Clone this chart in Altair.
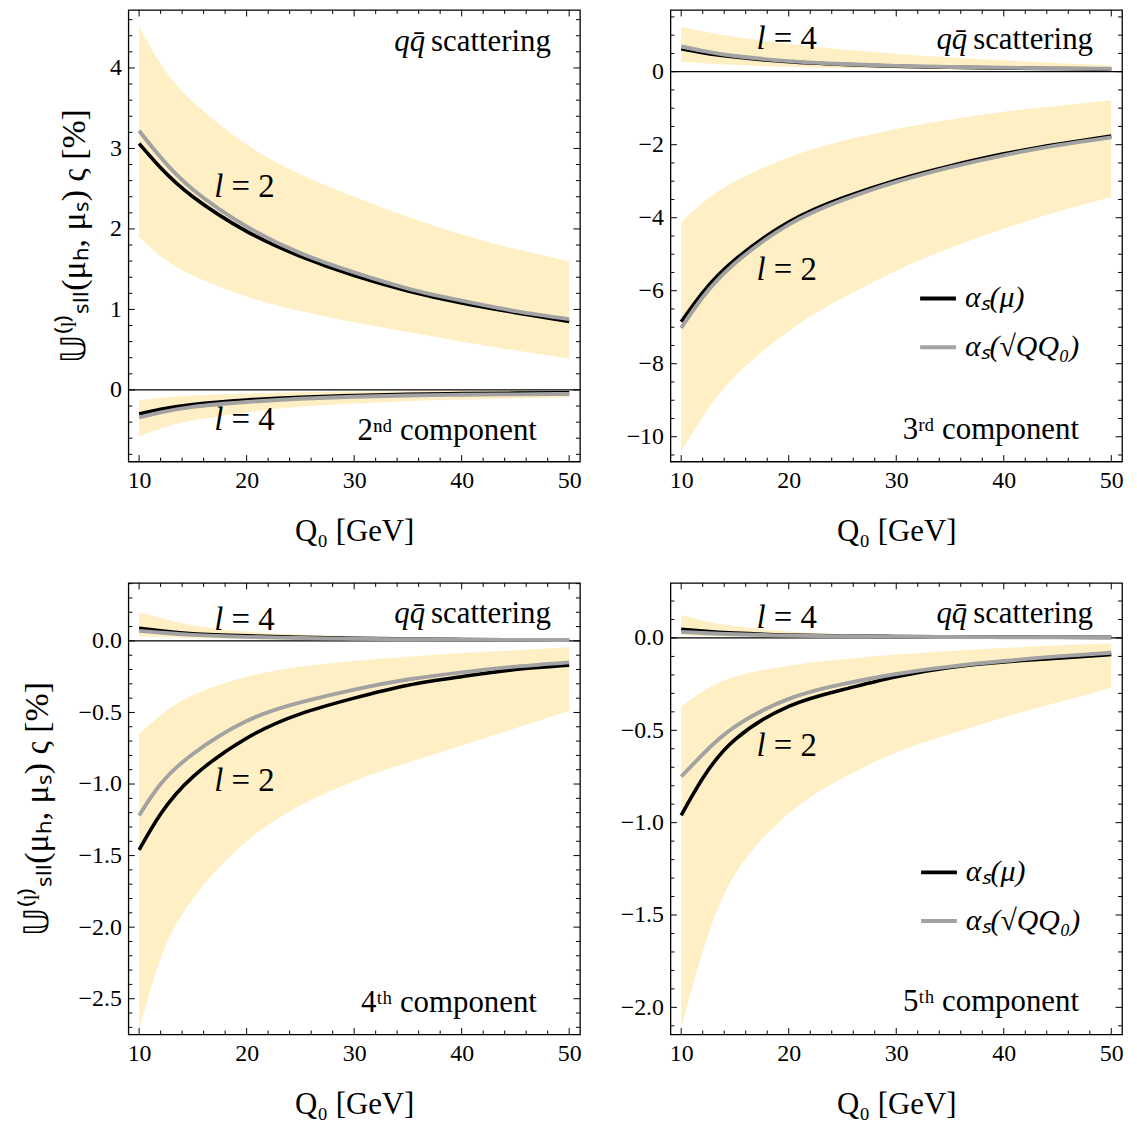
import altair as alt
import numpy as np
import pandas as pd

FONT = "Liberation Serif"
BAND = "#FFEFC4"
GRAY = "#A2A2A2"
LEG = ["αₛ(μ)", "αₛ(√QQ₀)"]

Q = [10, 12, 15, 20, 25, 30, 35, 40, 45, 50]

# ---- 2nd component (top-left) ----
c2_l2_black = [3.06, 2.76, 2.40, 1.97, 1.66, 1.42, 1.23, 1.08, 0.96, 0.85]
c2_l2_gray = [3.22, 2.89, 2.49, 2.03, 1.70, 1.46, 1.26, 1.11, 0.98, 0.88]
c2_l2_lo = [1.90, 1.66, 1.42, 1.16, 0.98, 0.84, 0.72, 0.60, 0.49, 0.39]
c2_l2_hi = [4.52, 4.05, 3.58, 3.05, 2.68, 2.40, 2.15, 1.93, 1.75, 1.60]
c2_l4_black = [-0.30, -0.24, -0.18, -0.125, -0.09, -0.07, -0.055, -0.045, -0.04, -0.035]
c2_l4_gray = [-0.34, -0.28, -0.21, -0.15, -0.11, -0.085, -0.07, -0.06, -0.055, -0.05]
c2_l4_lo = [-0.58, -0.48, -0.38, -0.28, -0.21, -0.17, -0.14, -0.12, -0.105, -0.09]
c2_l4_hi = [-0.13, -0.10, -0.07, -0.045, -0.03, -0.02, -0.015, -0.012, -0.01, -0.01]

# ---- 3rd component (top-right) ----
c3_l2_black = [-6.85, -6.05, -5.15, -4.12, -3.46, -2.97, -2.58, -2.25, -1.99, -1.76]
c3_l2_gray = [-7.02, -6.18, -5.25, -4.19, -3.52, -3.02, -2.62, -2.29, -2.02, -1.80]
c3_l2_lo = [-10.41, -9.45, -8.35, -7.10, -6.20, -5.45, -4.83, -4.30, -3.84, -3.43]
c3_l2_hi = [-4.12, -3.59, -3.01, -2.35, -1.90, -1.57, -1.31, -1.10, -0.93, -0.78]
c3_l4_black = [0.63, 0.52, 0.40, 0.27, 0.20, 0.15, 0.12, 0.10, 0.085, 0.075]
c3_l4_gray = [0.69, 0.57, 0.43, 0.29, 0.21, 0.16, 0.13, 0.11, 0.09, 0.08]
c3_l4_lo = [0.27, 0.23, 0.18, 0.13, 0.10, 0.08, 0.06, 0.05, 0.04, 0.03]
c3_l4_hi = [1.23, 1.11, 0.96, 0.76, 0.61, 0.49, 0.39, 0.31, 0.24, 0.17]

# ---- 4th component (bottom-left) ----
c4_l2_black = [-1.46, -1.21, -0.95, -0.68, -0.51, -0.40, -0.31, -0.25, -0.20, -0.17]
c4_l2_gray = [-1.22, -1.00, -0.79, -0.56, -0.43, -0.34, -0.27, -0.22, -0.18, -0.15]
c4_l2_lo = [-2.72, -2.22, -1.80, -1.40, -1.15, -0.98, -0.85, -0.73, -0.61, -0.49]
c4_l2_hi = [-0.65, -0.52, -0.38, -0.25, -0.18, -0.14, -0.11, -0.085, -0.065, -0.045]
c4_l4_black = [0.088, 0.07, 0.05, 0.035, 0.025, 0.018, 0.013, 0.01, 0.008, 0.007]
c4_l4_gray = [0.07, 0.058, 0.042, 0.028, 0.02, 0.015, 0.011, 0.009, 0.007, 0.006]
c4_l4_lo = [0.03, 0.025, 0.018, 0.012, 0.008, 0.006, 0.004, 0.003, 0.003, 0.002]
c4_l4_hi = [0.20, 0.16, 0.11, 0.065, 0.045, 0.032, 0.024, 0.018, 0.014, 0.011]

# ---- 5th component (bottom-right) ----
c5_l2_black = [-0.96, -0.76, -0.55, -0.37, -0.28, -0.21, -0.16, -0.13, -0.11, -0.09]
c5_l2_gray = [-0.75, -0.63, -0.48, -0.33, -0.25, -0.195, -0.155, -0.125, -0.10, -0.08]
c5_l2_lo = [-2.11, -1.70, -1.28, -0.95, -0.76, -0.62, -0.52, -0.43, -0.35, -0.27]
c5_l2_hi = [-0.37, -0.29, -0.21, -0.15, -0.115, -0.09, -0.07, -0.055, -0.04, -0.03]
c5_l4_black = [0.047, 0.037, 0.026, 0.016, 0.011, 0.008, 0.006, 0.005, 0.004, 0.003]
c5_l4_gray = [0.033, 0.027, 0.02, 0.013, 0.009, 0.007, 0.005, 0.004, 0.003, 0.003]
c5_l4_lo = [0.014, 0.011, 0.008, 0.005, 0.003, 0.002, 0.002, 0.001, 0.001, 0.001]
c5_l4_hi = [0.124, 0.095, 0.065, 0.035, 0.022, 0.015, 0.01, 0.007, 0.005, 0.004]

# ---- tick labels ----
x_major = [10, 20, 30, 40, 50]
y_major_c2 = [0, 1, 2, 3, 4]
y_major_c3 = [0, -2, -4, -6, -8, -10]
y_major_c4 = [0.0, -0.5, -1.0, -1.5, -2.0, -2.5]
y_major_c5 = [0.0, -0.5, -1.0, -1.5, -2.0]

YTITLE = "𝕌⁽ˡ⁾ₛₗₗ(μₕ, μₛ) ς [%]"
XTITLE = "Q₀ [GeV]"

W = 454
H = 454
MAJ = 6.5
MIN = 4.0


def minor(lo, hi, step, major_step):
    vals = np.round(np.arange(lo, hi + step / 2, step), 4)
    return [float(v) for v in vals if abs(v / major_step - round(v / major_step)) > 1e-6]


x_minor = minor(10, 50, 2, 10)


def panel(d, ydom, ymajor, yminor, yfmt, ytitle_pad, texts, legend_pos):
    xs = alt.Scale(domain=[9, 51], nice=False, zero=False)
    ys = alt.Scale(domain=ydom, nice=False, zero=False)
    common = dict(ticks=False, domain=False, grid=False, labelFont=FONT, labelFontSize=24,
                  labelColor="black", labelFlush=False, labelOverlap=False,
                  titleFont=FONT, titleFontWeight="normal", titleColor="black")
    xaxis = alt.Axis(values=x_major, format="d", labelPadding=7, title=XTITLE,
                     titleFontSize=31, titlePadding=24, **common)
    ykw = dict(values=ymajor, format=yfmt, labelPadding=7, **common)
    if ytitle_pad is not None:
        ykw.update(title=YTITLE, titleFontSize=34, titlePadding=ytitle_pad)
    else:
        ykw.update(title=None)
    yaxis = alt.Axis(**ykw)

    def X(f):
        return alt.X(f, type="quantitative", scale=xs, axis=xaxis)

    def Y(f):
        return alt.Y(f, type="quantitative", scale=ys, axis=yaxis)

    band_df = pd.DataFrame({
        "Q": Q + Q, "lo": d["l2_lo"] + d["l4_lo"], "hi": d["l2_hi"] + d["l4_hi"],
        "l": ["2"] * len(Q) + ["4"] * len(Q)})
    band = alt.Chart(band_df).mark_area(color=BAND, interpolate="natural").encode(
        x=X("Q"), y=Y("lo"), y2="hi:Q", detail="l:N")

    zero = alt.Chart(pd.DataFrame({"z": [0.0]})).mark_rule(color="black", strokeWidth=1.3).encode(y=Y("z"))

    if legend_pos is not None:
        legend = alt.Legend(orient="none", legendX=legend_pos[0], legendY=legend_pos[1], title=None,
                            symbolType="stroke", symbolStrokeWidth=4, symbolSize=1296,
                            labelFont=FONT, labelFontSize=30, labelFontStyle="italic",
                            labelColor="black", labelOffset=7, rowPadding=14, padding=0,
                            labelLimit=400, symbolOpacity=1)
    else:
        legend = None
    color = alt.Color("s:N", scale=alt.Scale(domain=LEG, range=["black", GRAY]), legend=legend)

    layers = [band, zero]
    for key, name, sw in [("black", LEG[0], 3.6), ("gray", LEG[1], 3.9)]:
        df = pd.DataFrame({
            "Q": Q + Q, "v": d["l2_" + key] + d["l4_" + key],
            "l": ["2"] * len(Q) + ["4"] * len(Q), "s": [name] * (2 * len(Q))})
        layers.append(alt.Chart(df).mark_line(strokeWidth=sw, interpolate="natural").encode(
            x=X("Q"), y=Y("v"), color=color, detail="l:N"))

    # frame ticks on all four sides, pointing inwards
    for vals, ln in [(x_major, MAJ), (x_minor, MIN)]:
        df = pd.DataFrame({"t": vals})
        layers.append(alt.Chart(df).mark_rule(color="black", strokeWidth=1).encode(
            x=X("t"), y=alt.value(H), y2=alt.value(H - ln)))
        layers.append(alt.Chart(df).mark_rule(color="black", strokeWidth=1).encode(
            x=X("t"), y=alt.value(0), y2=alt.value(ln)))
    for vals, ln in [(ymajor, MAJ), (yminor, MIN)]:
        df = pd.DataFrame({"t": vals})
        layers.append(alt.Chart(df).mark_rule(color="black", strokeWidth=1).encode(
            y=Y("t"), x=alt.value(0), x2=alt.value(ln)))
        layers.append(alt.Chart(df).mark_rule(color="black", strokeWidth=1).encode(
            y=Y("t"), x=alt.value(W - ln), x2=alt.value(W)))

    for (qx, vy, txt, align, style, size) in texts:
        df = pd.DataFrame({"Q": [qx], "v": [vy], "t": [txt]})
        layers.append(alt.Chart(df).mark_text(font=FONT, fontSize=size, align=align,
                                              baseline="alphabetic", fontStyle=style,
                                              color="black").encode(
            x=X("Q"), y=Y("v"), text="t:N"))

    return alt.layer(*layers).properties(width=W, height=H)


def annotations(scat_v, l4_v, l2_v, comp_v, comp_txt):
    return [
        (36.6, scat_v, "qq\u0304", "right", "italic", 31),
        (48.3, scat_v, "scattering", "right", "normal", 31),
        (17.0, l4_v, "l", "left", "italic", 33),
        (18.6, l4_v, "= 4", "left", "normal", 33),
        (17.0, l2_v, "l", "left", "italic", 33),
        (18.6, l2_v, "= 2", "left", "normal", 33),
        (47.0, comp_v, comp_txt, "right", "normal", 31),
    ]


def data(prefix):
    g = globals()
    return {k: g[prefix + "_" + k] for k in
            ["l2_black", "l2_gray", "l2_lo", "l2_hi", "l4_black", "l4_gray", "l4_lo", "l4_hi"]}


tl = panel(data("c2"), [-0.89, 4.72], y_major_c2, minor(-0.8, 4.6, 0.2, 1), "d", 18,
           annotations(4.21, -0.50, 2.40, -0.62, "2ⁿᵈ component"), None)
tr = panel(data("c3"), [-10.68, 1.69], y_major_c3, minor(-10.5, 1.5, 0.5, 2), "d", None,
           annotations(0.61, 0.61, -5.72, -10.07, "3ʳᵈ component"), (249, 270))
bl = panel(data("c4"), [-2.75, 0.405], y_major_c4, minor(-2.7, 0.4, 0.1, 0.5), ".1f", 24,
           annotations(0.125, 0.074, -1.05, -2.59, "4ᵗʰ component"), None)
br = panel(data("c5"), [-2.147, 0.298], y_major_c5, minor(-2.1, 0.2, 0.1, 0.5), ".1f", None,
           annotations(0.082, 0.053, -0.64, -2.02, "5ᵗʰ component"), (250, 271))

chart = alt.concat(tl, tr, bl, br, columns=2, spacing={"row": 122, "column": 91},
                   bounds="flush").resolve_scale(
    x="independent", y="independent", color="independent").resolve_legend(
    color="independent").properties(
    padding={"left": 11, "top": -3, "right": 5, "bottom": 5}).configure_view(
    stroke="black", strokeWidth=1.3).configure_axis(
    labelFont=FONT, titleFont=FONT).configure_text(font=FONT)

chart.save("out.html", embed_options={"renderer": "svg", "actions": False})
